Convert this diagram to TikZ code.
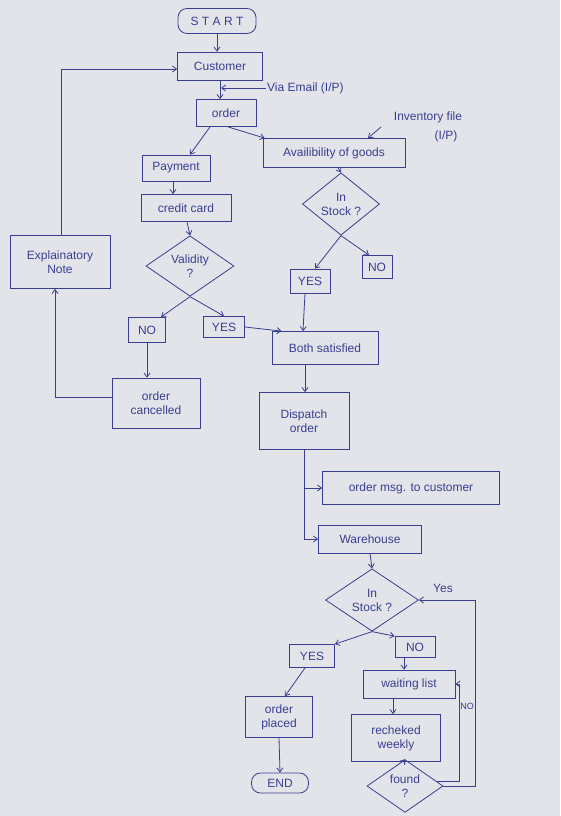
\documentclass[tikz,border=0pt]{standalone}
\usepackage{fontspec}
\setmainfont{Liberation Sans}
\usetikzlibrary{arrows.meta,shapes.geometric}
\definecolor{ink}{RGB}{58,62,145}
\definecolor{paper}{RGB}{226,228,234}
\begin{document}
\begin{tikzpicture}[x=1pt,y=-1pt,
  every node/.style={text=ink,font=\fontsize{12}{14}\selectfont},
  box/.style={draw=ink,line width=0.8pt,rectangle,inner sep=0pt,align=center},
  term/.style={box,rounded corners=9pt},
  dia/.style={draw=ink,line width=0.8pt,diamond,inner sep=0pt,align=center},
  lbl/.style={inner sep=1pt},
  arr/.style={draw=ink,line width=0.8pt,-{Straight Barb[length=4pt,width=6pt]}},
  ln/.style={draw=ink,line width=0.8pt}]
\fill[paper] (0,0) rectangle (560,816);
\useasboundingbox (0,0) rectangle (560,816);
% nodes
\node[term,minimum width=78,minimum height=25] (start) at (217,21) {S T A R T};
\node[box,minimum width=85,minimum height=28] (customer) at (220,66) {Customer};
\node[box,minimum width=60,minimum height=27] (order) at (226,113) {order};
\node[box,minimum width=142,minimum height=29] (avail) at (334,153) {Availibility of goods};
\node[box,minimum width=68,minimum height=26] (payment) at (176,168) {Payment};
\node[box,minimum width=90,minimum height=27] (credit) at (186,208) {credit card};
\node[dia,minimum width=88,minimum height=57] (valid) at (190,266) {Validity\\?};
\node[box,minimum width=37,minimum height=25] (noa) at (147,330) {NO};
\node[box,minimum width=41,minimum height=21] (yesa) at (224,327) {YES};
\node[dia,minimum width=77,minimum height=54] (stocka) at (341,204) {In\\Stock ?};
\node[box,minimum width=40,minimum height=24] (yesb) at (310,281) {YES};
\node[box,minimum width=30,minimum height=23] (nob) at (377,267) {NO};
\node[box,minimum width=106,minimum height=33] (both) at (325,348) {Both satisfied};
\node[box,minimum width=90,minimum height=57] (dispatch) at (304,421) {Dispatch\\order};
\node[box,minimum width=177,minimum height=33] (msg) at (411,488) {order msg. to customer};
\node[box,minimum width=103,minimum height=28] (ware) at (370,539) {Warehouse};
\node[dia,minimum width=93,minimum height=56] (stockb) at (372,600) {In\\Stock ?};
\node[box,minimum width=45,minimum height=23] (yesc) at (312,656) {YES};
\node[box,minimum width=40,minimum height=21] (noc) at (415,647) {NO};
\node[box,minimum width=92,minimum height=28] (wait) at (409,684) {waiting list};
\node[box,minimum width=89,minimum height=47] (rech) at (396,738) {recheked\\weekly};
\node[dia,minimum width=76,minimum height=44] (found) at (405,786) {found\\?};
\node[box,minimum width=67,minimum height=41] (placed) at (279,717) {order\\placed};
\node[term,minimum width=57,minimum height=20] (endn) at (280,783) {END};
\node[box,minimum width=100,minimum height=53] (expl) at (60,262) {Explainatory\\Note};
\node[box,minimum width=88,minimum height=50] (cancel) at (156,403) {order\\cancelled};
% text labels
\node[lbl,anchor=west] (email) at (266,88) {Via Email (I/P)};
\node[lbl] (inva) at (428,117) {Inventory file};
\node[lbl] (invb) at (446,136) {(I/P)};
\node[lbl] (yeslbl) at (443,588) {Yes};
\node[lbl,font=\fontsize{9}{10}\selectfont] (nolbl) at (467,706) {NO};
\coordinate (cemail) at (221,88);
\coordinate (cinv) at (381,127);
% connectors
\draw[arr] (start.south) -- (start.south |- customer.north);
\draw[arr] (customer.south) -- (customer.south |- order.north);
\draw[arr] (email.west) -- (cemail);
\draw[arr] ([xshift=-16pt]order.south) -- ([xshift=14pt]payment.north);
\draw[arr] ([xshift=2pt]order.south) -- ([xshift=2pt]avail.north west);
\draw[arr] (cinv) -- ([xshift=34pt]avail.north);
\draw[arr] ([xshift=-3pt]payment.south) -- ([xshift=-3pt]payment.south |- credit.north);
\draw[arr] ([xshift=1pt]credit.south) -- (valid.north);
\draw[arr] (valid.south) -- ([xshift=14pt]noa.north);
\draw[arr] (valid.south) -- (yesa.north);
\draw[arr] (yesa.east) -- ([xshift=10pt]both.north west);
\draw[arr] ([xshift=4pt]avail.south) -- (stocka.north);
\draw[arr] (stocka.south) -- ([xshift=5pt]yesb.north);
\draw[arr] (stocka.south) -- ([xshift=-8pt]nob.north);
\draw[arr] ([xshift=-5pt]yesb.south) -- ([xshift=-22pt]both.north);
\draw[arr] ([xshift=-20pt]both.south) -- ([xshift=-20pt]both.south |- dispatch.north);
\draw[arr] (dispatch.south) -- (dispatch.south |- ware.west) -- (ware.west);
\draw[arr] (dispatch.south |- msg.west) -- (msg.west);
\draw[arr] (ware.south) -- (stockb.north);
\draw[arr] (stockb.south) -- (yesc.north east);
\draw[arr] (stockb.south) -- (noc.north west);
\draw[arr] ([xshift=-11pt]noc.south) -- ([xshift=-11pt]noc.south |- wait.north);
\draw[arr] ([xshift=-16pt]wait.south) -- ([xshift=-16pt]wait.south |- rech.north);
\draw[arr] ([xshift=7pt]rech.south) -- (found.north);
\draw[arr] (found.8) -| ([xshift=4pt]wait.east) -- (wait.east);
\draw[arr] (found.east) -| ([xshift=56pt]stockb.east) -- (stockb.east);
\draw[arr] ([xshift=-7pt]yesc.south) -- ([xshift=6pt]placed.north);
\draw[arr] (placed.south) -- (endn.north);
\draw[arr] (noa.south) -- (noa.south |- cancel.north);
\draw[arr] ([yshift=6pt]cancel.west) -| ([xshift=-5pt]expl.south);
\draw[arr] ([xshift=1pt]expl.north) |- ([yshift=-3pt]customer.west);
\end{tikzpicture}
\end{document}
